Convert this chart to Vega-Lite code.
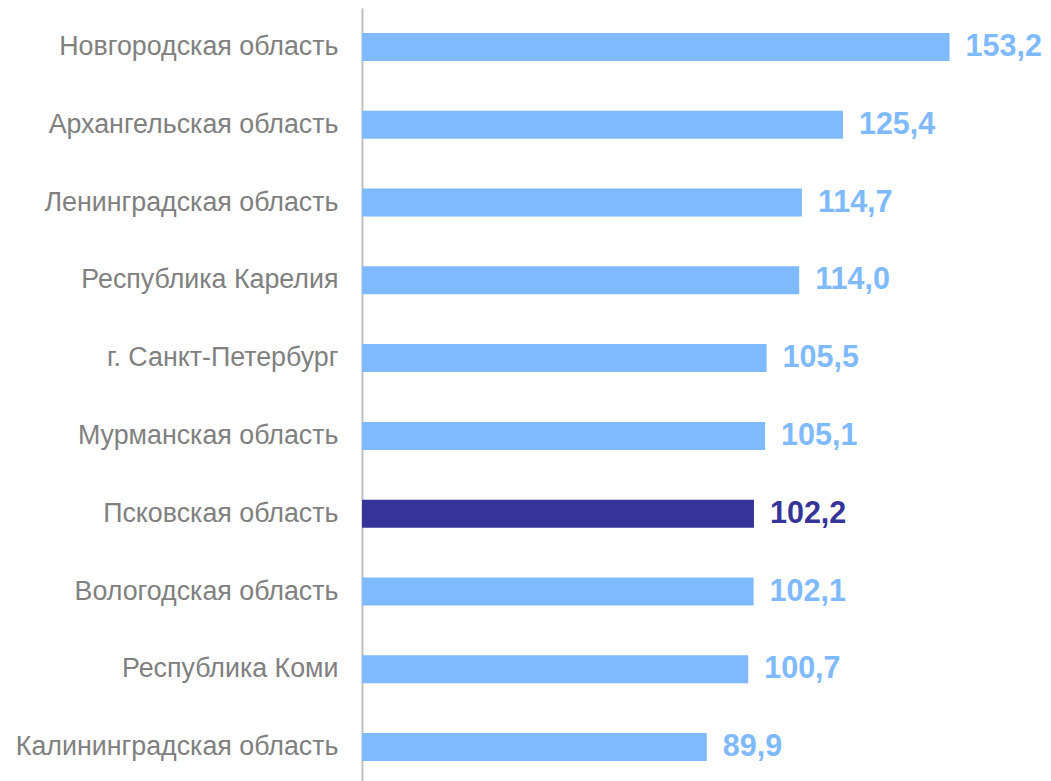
{
  "$schema": "https://vega.github.io/schema/vega-lite/v6.json",
  "autosize": "none",
  "width": 652,
  "height": 778,
  "padding": {"left": 362, "top": 8, "right": 37, "bottom": 0},
  "background": "white",
  "config": {
    "view": {"stroke": null},
    "font": "Liberation Sans",
    "locale": {"number": {"decimal": ",", "thousands": " ", "grouping": [3], "currency": ["", ""]}}
  },
  "data": {
    "values": [
      {"region": "Новгородская область", "value": 153.2, "highlight": "no"},
      {"region": "Архангельская область", "value": 125.4, "highlight": "no"},
      {"region": "Ленинградская область", "value": 114.7, "highlight": "no"},
      {"region": "Республика Карелия", "value": 114.0, "highlight": "no"},
      {"region": "г. Санкт-Петербург", "value": 105.5, "highlight": "no"},
      {"region": "Мурманская область", "value": 105.1, "highlight": "no"},
      {"region": "Псковская область", "value": 102.2, "highlight": "yes"},
      {"region": "Вологодская область", "value": 102.1, "highlight": "no"},
      {"region": "Республика Коми", "value": 100.7, "highlight": "no"},
      {"region": "Калининградская область", "value": 89.9, "highlight": "no"}
    ]
  },
  "encoding": {
    "y": {
      "field": "region", "type": "nominal", "sort": null,
      "scale": {"paddingInner": 0.64, "paddingOuter": 0.32},
      "axis": {
        "title": null, "ticks": false, "domainColor": "#bfbfbf", "domainWidth": 2,
        "labelFont": "Liberation Sans", "labelFontSize": 26.8, "labelColor": "#808080",
        "labelPadding": 24, "labelLimit": 400
      }
    },
    "x": {
      "field": "value", "type": "quantitative",
      "scale": {"domain": [0, 170], "nice": false},
      "axis": null
    },
    "color": {
      "field": "highlight", "type": "nominal",
      "scale": {"domain": ["no", "yes"], "range": ["#7fbaff", "#363399"]},
      "legend": null
    }
  },
  "layer": [
    {"mark": {"type": "bar"}},
    {
      "mark": {"type": "text", "align": "left", "baseline": "middle", "dx": 16, "font": "Liberation Sans", "fontSize": 30.5, "fontWeight": "bold"},
      "encoding": {"text": {"field": "value", "type": "quantitative", "format": ".1f"}}
    }
  ]
}
